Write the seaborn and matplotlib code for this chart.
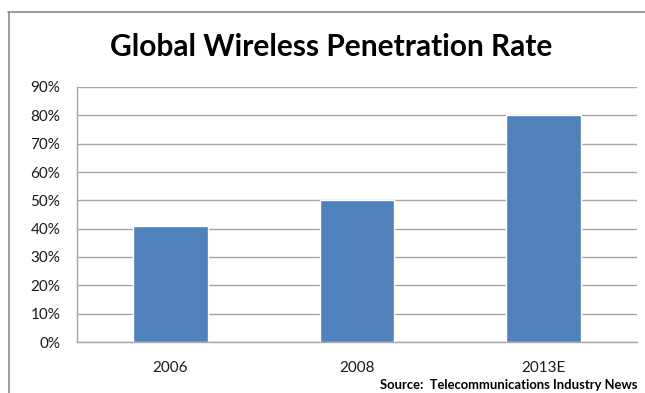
import matplotlib
matplotlib.use("Agg")
import matplotlib.pyplot as plt
import seaborn as sns
import pandas as pd
from matplotlib.lines import Line2D
from matplotlib.ticker import FuncFormatter

# chart data
years = ["2006", "2008", "2013E"]
penetration = [41, 50, 80]
y_ticks = list(range(0, 91, 10))

df = pd.DataFrame({"year": years, "rate": penetration})

sns.set_style("white")
plt.rcParams["font.family"] = ["Lato", "DejaVu Sans"]

fig = plt.figure(figsize=(6.45, 3.93), dpi=100)
ax = fig.add_axes([77 / 645, 51 / 393, 560 / 645, 255 / 393])

sns.barplot(data=df, x="year", y="rate", color="#4F81BD", width=0.4,
            saturation=1, ax=ax, zorder=3)

ax.set_ylim(0, 90)
ax.set_yticks(y_ticks)
ax.yaxis.set_major_formatter(FuncFormatter(lambda v, _: f"{int(v)}%"))
ax.grid(axis="y", color="#A6A6A6", linewidth=1.0, zorder=0)
ax.set_axisbelow(True)
ax.set_xlabel("")
ax.set_ylabel("")
ax.tick_params(axis="both", length=0, labelsize=11, labelcolor="#1a1a1a")
ax.tick_params(axis="y", pad=12)
ax.tick_params(axis="x", pad=14)

for side in ["top", "right"]:
    ax.spines[side].set_visible(False)
for side in ["left", "bottom"]:
    ax.spines[side].set_color("#A6A6A6")
    ax.spines[side].set_linewidth(1.0)

# title and source
fig.text(331 / 645, 1 - 47 / 393, "Global Wireless Penetration Rate",
         ha="center", va="center", fontsize=21.5, fontweight="bold", color="black")
fig.text(637 / 645, 1 - 385 / 393, "Source:  Telecommunications Industry News",
         ha="right", va="center", fontsize=9.4, fontweight="bold", color="black")

# chart frame (top and left edges only)
fig.add_artist(Line2D([8 / 645, 1], [1 - 12 / 393, 1 - 12 / 393],
                      transform=fig.transFigure, color="#8C8C8C", linewidth=1.2))
fig.add_artist(Line2D([9 / 645, 9 / 645], [0, 1 - 12 / 393],
                      transform=fig.transFigure, color="#8C8C8C", linewidth=1.2))

fig.savefig("out.png", dpi=100)
